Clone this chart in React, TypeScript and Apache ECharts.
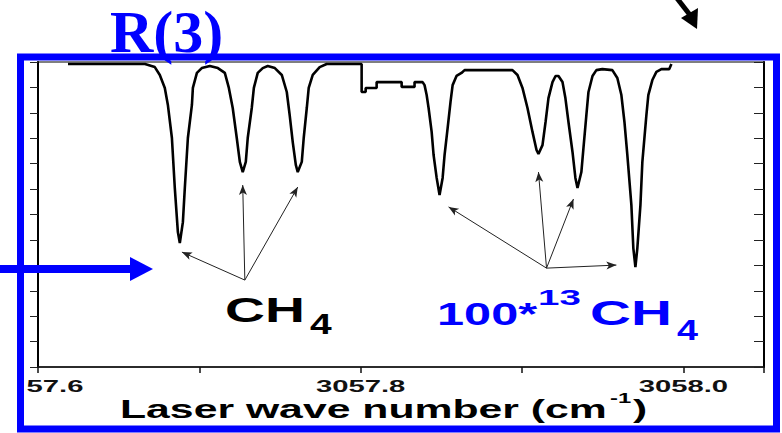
import React, { useEffect, useRef } from "react";
import * as echarts from "echarts";

// Laser wave number (cm^-1) of the sampled trace points
const waveNumbers = [
  3057.6186, 3057.6663, 3057.6724, 3057.6755, 3057.6786, 3057.6805, 3057.683, 3057.6848, 3057.6867, 3057.6879,
  3057.6898, 3057.691, 3057.6929, 3057.6954, 3057.696, 3057.6985, 3057.7015, 3057.7065, 3057.7115, 3057.7158,
  3057.7183, 3057.7207, 3057.7232, 3057.7251, 3057.7269, 3057.7288, 3057.73, 3057.7325, 3057.7338, 3057.7362,
  3057.7393, 3057.7424, 3057.7468, 3057.7511, 3057.7542, 3057.756, 3057.7579, 3057.7598, 3057.761, 3057.7635,
  3057.7647, 3057.7666, 3057.7678, 3057.7703, 3057.7746, 3057.7789, 3057.8006, 3057.8006, 3057.8031, 3057.8031,
  3057.8099, 3057.8099, 3057.8254, 3057.8254, 3057.8334, 3057.8334, 3057.8384, 3057.8396, 3057.8409, 3057.8421,
  3057.844, 3057.8452, 3057.8471, 3057.8489, 3057.8508, 3057.852, 3057.8539, 3057.8557, 3057.857, 3057.8594,
  3057.8625, 3057.8644, 3057.8941, 3057.8972, 3057.9003, 3057.9034, 3057.9065, 3057.909, 3057.9102, 3057.9127,
  3057.9146, 3057.9164, 3057.9189, 3057.9208, 3057.9226, 3057.9251, 3057.9269, 3057.9288, 3057.9313, 3057.9331,
  3057.9344, 3057.9368, 3057.9381, 3057.9399, 3057.9412, 3057.9437, 3057.9461, 3057.9498, 3057.956, 3057.9591,
  3057.9616, 3057.9635, 3057.9653, 3057.9678, 3057.969, 3057.9703, 3057.9715, 3057.9734, 3057.9746, 3057.9771,
  3057.9783, 3057.9808, 3057.9833, 3057.9864, 3057.9913, 3057.9926,
];

// Detector signal (arbitrary units)
const signal = [
  1.192, 1.192, 1.18, 1.149, 1.098, 1.031, 0.901, 0.704, 0.531, 0.488,
  0.57, 0.704, 0.901, 1.031, 1.098, 1.157, 1.176, 1.184, 1.176, 1.157,
  1.098, 1.019, 0.901, 0.807, 0.767, 0.807, 0.901, 1.019, 1.098, 1.157,
  1.176, 1.184, 1.176, 1.149, 1.082, 0.991, 0.885, 0.795, 0.767, 0.807,
  0.901, 1.019, 1.098, 1.149, 1.18, 1.192, 1.192, 1.082, 1.082, 1.098,
  1.098, 1.121, 1.121, 1.102, 1.102, 1.121, 1.121, 1.109, 1.07, 1.019,
  0.925, 0.834, 0.744, 0.677, 0.744, 0.834, 0.94, 1.043, 1.109, 1.145,
  1.157, 1.168, 1.168, 1.149, 1.098, 1.019, 0.925, 0.854, 0.838, 0.873,
  0.964, 1.058, 1.121, 1.145, 1.145, 1.121, 1.058, 0.964, 0.846, 0.744,
  0.704, 0.767, 0.862, 0.991, 1.082, 1.145, 1.168, 1.172, 1.168, 1.137,
  1.07, 0.964, 0.834, 0.637, 0.468, 0.393, 0.468, 0.637, 0.807, 0.991,
  1.07, 1.129, 1.161, 1.172, 1.172, 1.192,
];

const xTickValues = [3057.6, 3057.8, 3058.0];
const xTickLabels = ["57.6", "3057.8", "3058.0"];

// annotation arrows (data coordinates)
const ch4ArrowFrom = [3057.7282, 0.342];
const ch4ArrowTargets = [
  [3057.6892, 0.452],
  [3057.7269, 0.716],
  [3057.761, 0.708],
];
const c13ArrowFrom = [3057.9152, 0.389];
const c13ArrowTargets = [
  [3057.8545, 0.63],
  [3057.9102, 0.767],
  [3057.9319, 0.661],
  [3057.9585, 0.401],
];

const BLUE = "#0000ff";
const SANS = "Liberation Sans";

export default function App() {
  const ref = useRef<HTMLDivElement>(null);

  useEffect(() => {
    if (!ref.current) return;
    const chart = echarts.init(ref.current, null, { renderer: "svg" });

    const arrowPairs = [
      ...ch4ArrowTargets.map((t) => [{ coord: ch4ArrowFrom }, { coord: t }]),
      ...c13ArrowTargets.map((t) => [{ coord: c13ArrowFrom }, { coord: t }]),
    ];

    const yAxisBase = {
      type: "value",
      min: 0,
      max: 1.2,
      interval: 0.1,
      axisLabel: { show: false },
      splitLine: { show: false },
    };

    const txt = (
      text: string,
      x: number,
      y: number,
      fontSize: number,
      fill: string,
      scaleX: number,
      align = "left",
      fontFamily = SANS
    ) => ({
      type: "text",
      x,
      y,
      scaleX,
      z: 10,
      style: { text, fontFamily, fontWeight: "bold", fontSize, fill, align, verticalAlign: "middle" },
    });

    const baseGraphics: any[] = [
      txt("R(3)", 110, 32, 60, BLUE, 1, "left", "Liberation Serif"),
      {
        type: "rect",
        z: 20,
        shape: { x: 20.5, y: 57, width: 756, height: 372 },
        style: { fill: "none", stroke: BLUE, lineWidth: 7 },
      },
      // blue pointer arrow on the left
      { type: "line", z: 21, shape: { x1: 0, y1: 269, x2: 134, y2: 269 }, style: { stroke: BLUE, lineWidth: 8 } },
      { type: "polygon", z: 21, shape: { points: [[130, 257], [153, 269], [130, 281]] }, style: { fill: BLUE } },
      // black arrow at top right
      { type: "line", z: 21, shape: { x1: 676, y1: -3, x2: 690, y2: 15 }, style: { stroke: "#000000", lineWidth: 5 } },
      { type: "polygon", z: 21, shape: { points: [[681, 18], [698, 8], [697, 29]] }, style: { fill: "#000000" } },
      // CH4 label
      txt("CH", 225, 310, 35, "#000000", 1.58),
      txt("4", 310, 324, 30, "#000000", 1.3),
      // 100*13CH4 label
      txt("100*", 437, 314, 31, BLUE, 1.57),
      txt("13", 538, 297.5, 22, BLUE, 1.75),
      txt("CH", 590, 312.5, 35, BLUE, 1.62),
      txt("4", 677, 330.5, 29, BLUE, 1.3),
      // axis title
      txt("Laser wave number (cm", 120, 409, 25, "#000000", 1.71),
      txt("-1", 610, 398, 14, "#000000", 1.7),
      txt(")", 633, 409, 25, "#000000", 1.7),
    ];

    const option: any = {
      animation: false,
      backgroundColor: "#ffffff",
      grid: {
        left: 38,
        right: 18,
        top: 62,
        bottom: 66,
        show: true,
        borderColor: "#555555",
        borderWidth: 1.5,
        backgroundColor: "transparent",
      },
      xAxis: {
        type: "value",
        min: 3057.6,
        max: 3058.05,
        interval: 0.1,
        splitLine: { show: false },
        axisLine: { show: true, lineStyle: { color: "#111111", width: 1.5 } },
        axisTick: { show: true, length: 6, lineStyle: { color: "#111111", width: 1.5 } },
        axisLabel: { show: false },
      },
      yAxis: [
        {
          ...yAxisBase,
          position: "left",
          axisLine: { show: true, lineStyle: { color: "#000000", width: 2 } },
          axisTick: { show: true, length: 8, lineStyle: { color: "#222222", width: 1 } },
        },
        {
          ...yAxisBase,
          position: "right",
          axisLine: { show: true, lineStyle: { color: "#000000", width: 2 } },
          axisTick: { show: true, inside: true, length: 10, lineStyle: { color: "#222222", width: 1 } },
        },
      ],
      series: [
        {
          type: "line",
          yAxisIndex: 0,
          data: waveNumbers.map((w, i) => [w, signal[i]]),
          showSymbol: false,
          symbol: "none",
          lineStyle: { color: "#000000", width: 2.6 },
          z: 3,
          markLine: {
            silent: true,
            symbol: ["none", "arrow"],
            symbolSize: [6, 10],
            label: { show: false },
            lineStyle: { color: "#222222", width: 1, type: "solid" },
            data: arrowPairs,
          },
        },
      ],
      graphic: baseGraphics,
    };

    chart.setOption(option);

    // tick labels placed through the x axis scale (stretched like the original)
    const tickGraphics = xTickValues.map((v, i) => {
      const px = chart.convertToPixel({ xAxisIndex: 0 }, v) as number;
      const cx = i === 0 ? px + 17 : px;
      return txt(xTickLabels[i], cx, 386, 17, "#111111", 1.72, "center");
    });
    chart.setOption({ graphic: [...baseGraphics, ...tickGraphics] });

    return () => chart.dispose();
  }, []);

  return (
    <div
      ref={ref}
      style={{ position: "fixed", left: 0, top: 0, width: 782, height: 433, background: "#ffffff" }}
    />
  );
}
